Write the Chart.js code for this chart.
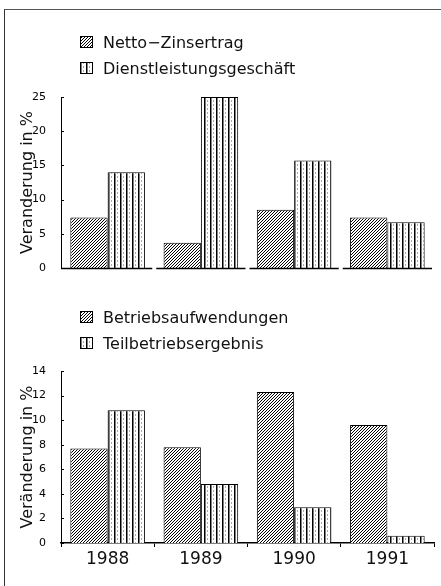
<!DOCTYPE html>
<html>
<head>
<meta charset="utf-8">
<script src="https://cdn.jsdelivr.net/npm/chart.js@4"></script>
<style>
  body { margin: 0; background: #fff; width: 441px; height: 586px; overflow: hidden; position: relative; font-family: "DejaVu Sans", sans-serif; }
  #frame { position: absolute; left: 4px; top: 9px; width: 437px; height: 577px; border-left: 1.5px solid #333; border-top: 1.5px solid #555; }
  #c1 { position: absolute; left: 0; top: 0; }
  #c2 { position: absolute; left: 0; top: 290px; }
  .legend { position: absolute; left: 80px; font-size: 16px; color: #111; }
  .legend div { display: flex; align-items: center; height: 26px; }
  .legend canvas { margin-right: 10px; }
</style>
</head>
<body>
<div id="frame"></div>
<canvas id="c1" width="441" height="290"></canvas>
<canvas id="c2" width="441" height="296"></canvas>
<div class="legend" id="leg1" style="top:29px"></div>
<div class="legend" id="leg2" style="top:304px"></div>
<script>
// data
const years = ['1988', '1989', '1990', '1991'];
const nettoZins = [7.4, 3.7, 8.5, 7.4];
const dienstleistung = [14, 25, 15.7, 6.7];
const betriebsaufw = [7.7, 7.8, 12.3, 9.6];
const teilbetrieb = [10.8, 4.8, 2.9, 0.6];
const topTicks = [0, 25, 5];    // min, max, step
const bottomTicks = [0, 14, 2];

// fill patterns: diagonal hatch and vertical stripes
function hatch(ctx) {
    const c = document.createElement('canvas');
    c.width = 3; c.height = 3;
    const g = c.getContext('2d');
    g.fillStyle = '#fff';
    g.fillRect(0, 0, 3, 3);
    g.strokeStyle = '#000';
    g.lineWidth = 1;
    g.beginPath();
    g.moveTo(-1, 4); g.lineTo(4, -1);
    g.moveTo(-1, 1); g.lineTo(1, -1);
    g.moveTo(2, 4); g.lineTo(4, 2);
    g.stroke();
    return ctx.createPattern(c, 'repeat');
}
function stripes(ctx) {
    const c = document.createElement('canvas');
    c.width = 6; c.height = 4;
    const g = c.getContext('2d');
    g.fillStyle = '#fff';
    g.fillRect(0, 0, 6, 4);
    g.fillStyle = '#000';
    g.fillRect(0, 0, 1.5, 4);
    g.fillStyle = '#aaa';
    g.fillRect(3, 0, 1, 2);
    return ctx.createPattern(c, 'repeat');
}

// small ticks pointing into the plot on the y axis
const innerTicks = {
    id: 'innerTicks',
    afterDraw(chart) {
        const y = chart.scales.y, ctx = chart.ctx;
        ctx.save();
        ctx.strokeStyle = '#000';
        ctx.lineWidth = 1;
        y.ticks.forEach(t => {
            const py = Math.round(y.getPixelForValue(t.value)) + 0.5;
            ctx.beginPath();
            ctx.moveTo(y.right, py);
            ctx.lineTo(y.right + 3, py);
            ctx.stroke();
        });
        ctx.restore();
    }
};

// top panel has a broken baseline, one piece under each year
const splitBase = {
    id: 'splitBase',
    afterDatasetsDraw(chart) {
        const x = chart.scales.x, y = chart.scales.y, ctx = chart.ctx;
        const w = (x.right - x.left) / chart.data.labels.length;
        const py = Math.round(y.getPixelForValue(0)) + 0.5;
        ctx.save();
        ctx.strokeStyle = '#000';
        ctx.lineWidth = 1.5;
        chart.data.labels.forEach((l, i) => {
            const c = x.getPixelForValue(i);
            ctx.beginPath();
            ctx.moveTo(c - w / 2 + (i ? 2 : 0), py);
            ctx.lineTo(c + w / 2 - 2, py);
            ctx.stroke();
        });
        ctx.restore();
    }
};

function yAxis(ticks, title) {
    return {
        min: ticks[0], max: ticks[1],
        afterFit(s) { s.width = 56; },
        grid: { display: false },
        border: { display: true, color: '#000', width: 1 },
        ticks: { stepSize: ticks[2], padding: 7, color: '#000', font: { family: 'DejaVu Sans', size: 11 } },
        title: { display: true, text: title, color: '#111', padding: { top: 13 }, font: { family: 'DejaVu Sans', size: 16 } }
    };
}

function makeLegend(id, names, fills) {
    const box = document.getElementById(id);
    names.forEach((n, i) => {
        const row = document.createElement('div');
        const sw = document.createElement('canvas');
        sw.width = 13; sw.height = 12;
        const g = sw.getContext('2d');
        g.fillStyle = fills[i](g);
        g.fillRect(0, 0, 13, 12);
        g.strokeStyle = '#000';
        g.strokeRect(0.5, 0.5, 12, 11);
        row.appendChild(sw);
        row.appendChild(document.createTextNode(n));
        box.appendChild(row);
    });
}

const ctx1 = document.getElementById('c1').getContext('2d');
const ctx2 = document.getElementById('c2').getContext('2d');

new Chart(ctx1, {
    type: 'bar',
    data: {
        labels: years,
        datasets: [
            { label: 'Netto\u2212Zinsertrag', data: nettoZins, backgroundColor: hatch(ctx1), borderColor: '#000', borderWidth: 1 },
            { label: 'Dienstleistungsgeschäft', data: dienstleistung, backgroundColor: stripes(ctx1), borderColor: '#000', borderWidth: 1 }
        ]
    },
    options: {
        responsive: false,
        animation: false,
        datasets: { bar: { categoryPercentage: 0.8, barPercentage: 1 } },
        layout: { padding: { left: 5, right: 7, top: 97, bottom: 22 } },
        plugins: { legend: { display: false }, tooltip: { enabled: false } },
        scales: {
            x: { display: false },
            y: yAxis(topTicks, 'Veranderung in %')
        }
    },
    plugins: [innerTicks, splitBase]
});

new Chart(ctx2, {
    type: 'bar',
    data: {
        labels: years,
        datasets: [
            { label: 'Betriebsaufwendungen', data: betriebsaufw, backgroundColor: hatch(ctx2), borderColor: '#000', borderWidth: 1 },
            { label: 'Teilbetriebsergebnis', data: teilbetrieb, backgroundColor: stripes(ctx2), borderColor: '#000', borderWidth: 1 }
        ]
    },
    options: {
        responsive: false,
        animation: false,
        datasets: { bar: { categoryPercentage: 0.8, barPercentage: 1 } },
        layout: { padding: { left: 5, right: 7, top: 81, bottom: 0 } },
        plugins: { legend: { display: false }, tooltip: { enabled: false } },
        scales: {
            x: {
                afterFit(s) { s.height = 43; },
                grid: { display: true, offset: true, drawOnChartArea: false, tickLength: 4, color: '#000' },
                border: { display: true, color: '#000', width: 1.5 },
                ticks: { padding: 2, color: '#111', font: { family: 'DejaVu Sans', size: 17 } }
            },
            y: yAxis(bottomTicks, 'Veränderung in %')
        }
    },
    plugins: [innerTicks]
});

makeLegend('leg1', ['Netto\u2212Zinsertrag', 'Dienstleistungsgeschäft'], [hatch, stripes]);
makeLegend('leg2', ['Betriebsaufwendungen', 'Teilbetriebsergebnis'], [hatch, stripes]);
</script>
</body>
</html>
